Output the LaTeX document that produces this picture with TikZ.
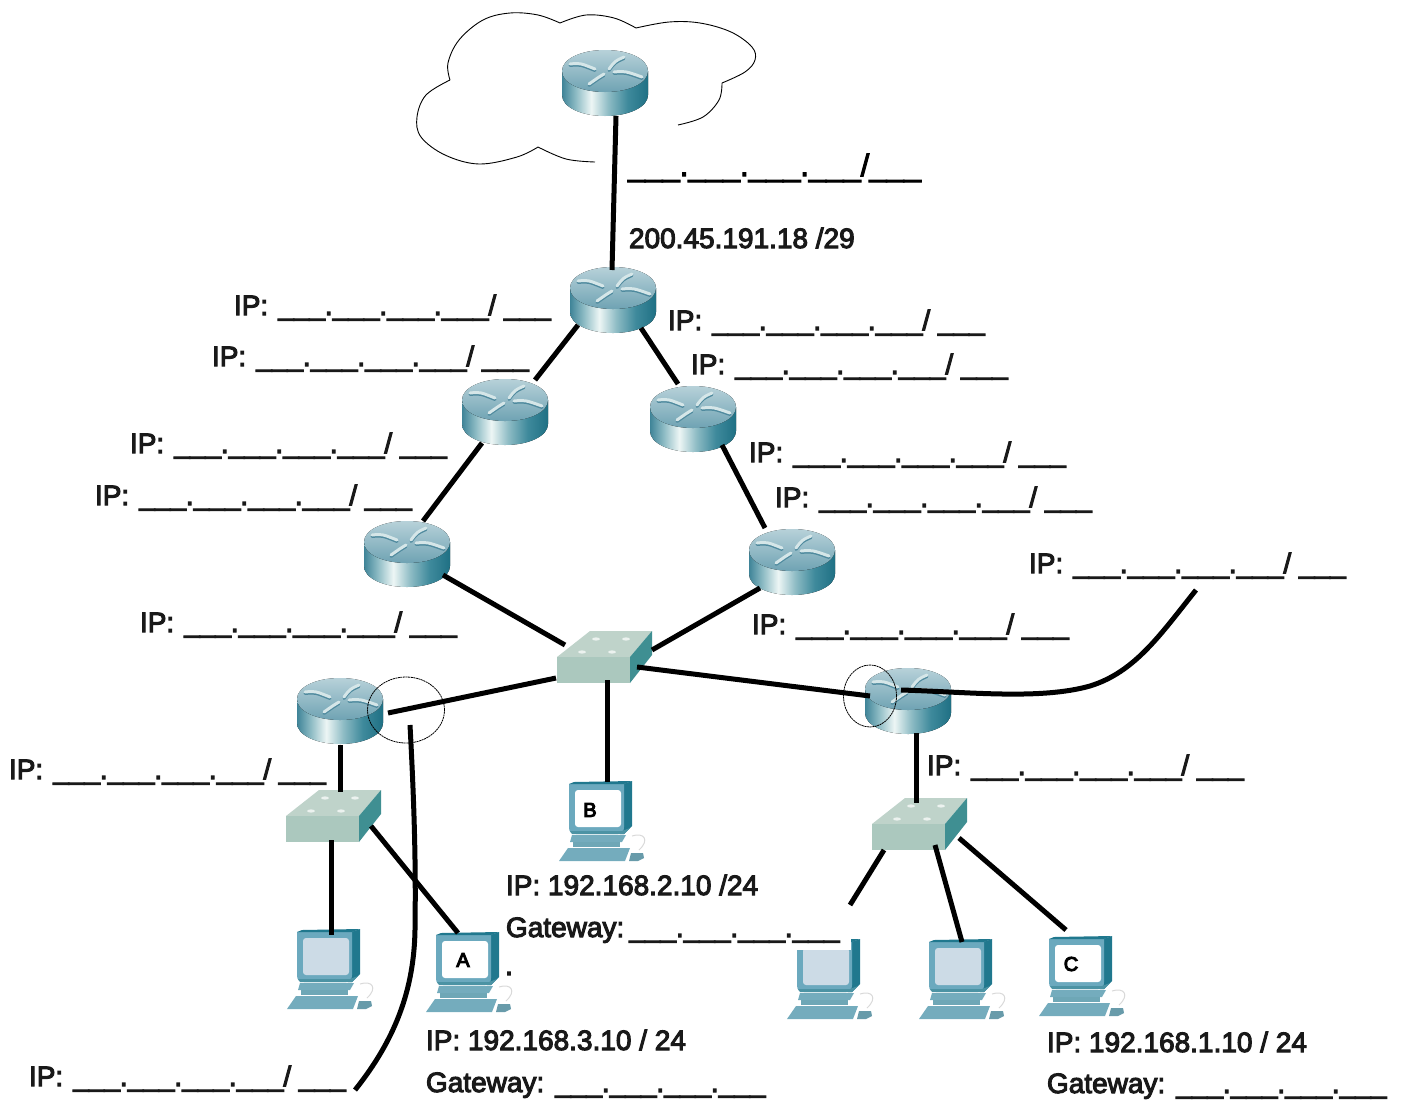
\documentclass[tikz,border=0pt]{standalone}
\usepackage{fontspec}
\setmainfont{Liberation Sans}
\usetikzlibrary{calc,shapes.geometric}
\definecolor{rtop}{HTML}{6FA3B3}
\definecolor{rarrow}{HTML}{D5E6E8}
\definecolor{rshadow}{HTML}{4F8A9E}
\definecolor{swfront}{HTML}{ABC8BE}
\definecolor{swtop}{HTML}{BFD3CA}
\definecolor{swside}{HTML}{3F8F92}
\definecolor{pcframe}{HTML}{6BA9BE}
\definecolor{pcside}{HTML}{20788E}
\definecolor{pcscreen}{HTML}{CCDBE6}
\definecolor{pcbase}{HTML}{74ACBD}
\definecolor{rb1}{HTML}{3F8498}
\definecolor{rb2}{HTML}{8DBBC4}
\definecolor{rb3}{HTML}{EDF6F5}
\definecolor{rb4}{HTML}{3F8A9C}
\definecolor{rb5}{HTML}{1F7084}
\pgfdeclarehorizontalshading{routerbody}{100bp}{
 color(0bp)=(rb1); color(25bp)=(rb1); color(33bp)=(rb2); color(42bp)=(rb3);
 color(52bp)=(rb2); color(63bp)=(rb4); color(75bp)=(rb5); color(100bp)=(rb5)}
\newcommand{\strokeon}{\special{pdf:code 2 Tr 1.05 w}}
\newcommand{\strokeoff}{\special{pdf:code 0 Tr 0.4 w}}
\tikzset{
 x=1pt,y=-1pt,
 link/.style={line width=5pt,black},
 ring/.style={line width=.8pt,black,dash pattern=on 2pt off .6pt},
 dev/.style={inner sep=0pt,outer sep=0pt},
 heavy/.style={execute at begin node=\strokeon,execute at end node=\strokeoff},
 lab/.style={heavy,anchor=base west,inner sep=0pt,outer sep=0pt,font=\fontsize{28}{30}\selectfont,text=black!90},
 blankwide/.style={heavy,anchor=base west,inner sep=0pt,outer sep=0pt,font=\fontsize{31}{33}\selectfont,text=black},
 pclabel/.style={heavy,inner sep=0pt,font=\fontsize{20}{22}\selectfont},
 rstroke/.style={line width=3pt,line cap=round},
 pics/routericon/.style={code={
   \fill[shading=routerbody] (-43,-12) -- (-43,12) .. controls (-43,24) and (-24,33) .. (0,33)
      .. controls (24,33) and (43,24) .. (43,12) -- (43,-12) -- cycle;
   \fill[top color=rtop!50!white,bottom color=rtop] (-43,-12) .. controls (-43,-24) and (-24,-33) .. (0,-33)
      .. controls (24,-33) and (43,-24) .. (43,-12) .. controls (43,0) and (24,9) .. (0,9)
      .. controls (-24,9) and (-43,0) .. (-43,-12) -- cycle;
   \begin{scope}[shift={(0,1.5)}]
   \draw[rstroke,rshadow] (-35,-19) .. controls (-25,-20) .. (-10,-14);
   \draw[rstroke,rshadow] (9,-11) .. controls (20,-12) .. (37,-6);
   \draw[rstroke,rshadow] (19,-26) .. controls (10,-22) .. (4,-14);
   \draw[rstroke,rshadow] (-1,-9) .. controls (-6,-6) .. (-16,1);
   \end{scope}
   \draw[rstroke,rarrow] (-35,-19) .. controls (-25,-20) .. (-10,-14);
   \draw[rstroke,rarrow] (9,-11) .. controls (20,-12) .. (37,-6);
   \draw[rstroke,rarrow] (19,-26) .. controls (10,-22) .. (4,-14);
   \draw[rstroke,rarrow] (-1,-9) .. controls (-6,-6) .. (-16,1);
 }},
 pics/switchicon/.style={code={
   \fill[swtop] (-47,0) -- (-14,-26) -- (48,-26) -- (26,0) -- cycle;
   \fill[swfront] (-47,0) rectangle (26,26);
   \fill[swside] (26,0) -- (48,-26) -- (48,-2) -- (26,26) -- cycle;
   \foreach \p in {(-22,-5),(-8,-18),(8,-5),(22,-18)}
     \fill[white!70!swtop] \p ellipse [x radius=4, y radius=1.6];
 }},
 pics/pcicon/.style={code={
   \begin{scope}[shift={(-42,-40)}]
   \fill[pcside] (60,3) -- (72,-1) -- (72,44) -- (64,52) -- (60,52) -- cycle;
   \fill[pcframe] (9,2) -- (64,2) -- (64,45) .. controls (64,50) and (62,52) .. (58,52) -- (16,52)
     .. controls (11,52) and (9,50) .. (9,45) -- cycle;
   \fill[pcside] (14,0) -- (72,-1) -- (64,2) -- (9,2) -- cycle;
   \fill[#1,rounded corners=3pt] (15,8) rectangle (61,45);
   \fill[pcside!80!white] (10,49) -- (62,49) -- (70,46) -- (64,52) -- (12,52) -- cycle;
   \fill[pcbase] (12,53) -- (66,53) -- (62,60) -- (10,60) -- cycle;
   \fill[pcside!65!white] (13,60) -- (60,60) -- (60,65) -- (13,65) -- cycle;
   \fill[pcbase] (8,66) -- (70,66) -- (65,79) -- (-1,79) -- cycle;
   \fill[pcbase!90!black] (71,71) -- (83,71) -- (84,76) -- (78,79) -- (69,79) -- cycle;
   \draw[line width=1pt,black!15] (72,54) .. controls (84,50) and (90,58) .. (79,68);
   \end{scope}
 }},
}
\newcommand{\blanks}{\_\_\_.\_\_\_.\_\_\_.\_\_\_}
\newcommand{\ipblank}{IP:\hspace{10pt}\blanks/ \_\_\_}
\begin{document}
\begin{tikzpicture}
\useasboundingbox (0,0) rectangle (1403,1101);
% cloud
\draw[line width=.9pt,black]
 plot[smooth,tension=.6] coordinates {(595,162)(566,159)(538,147)}
 plot[smooth,tension=.6] coordinates {(538,147)(517,157)(479,164)(445,155)(421,137)(417,117)(426,95)(450,80)}
 plot[smooth,tension=.6] coordinates {(450,80)(448,63)(459,40)(483,20)(510,13)(538,15)(560,23)}
 plot[smooth,tension=.6] coordinates {(560,23)(586,15)(614,18)(636,28)}
 plot[smooth,tension=.6] coordinates {(636,28)(669,22)(700,23)(731,32)(752,47)(755,60)(745,72)(722,83)}
 plot[smooth,tension=.6] coordinates {(722,83)(719,100)(703,117)(678,125)};
% routers
\foreach \n/\p in {r0/{605,83},r1/{613,300},r2/{505,412},r3/{693,419},r4/{407,554},r5/{792,562},r6/{340,711},r7/{908,701}}{
  \node[dev,minimum width=86pt,minimum height=66pt] (\n) at (\p) {};
  \pic at (\p) {routericon};
}
% switches
\foreach \n/\p in {s0/{604,657},s1/{333,816},s2/{919,824}}{
  \node[dev,minimum width=96pt,minimum height=52pt] (\n) at (\p) {};
  \pic at (\p) {switchicon};
}
% computers
\foreach \n/\p/\c in {pcb/{602,822}/white,pc1/{330,970}/pcscreen,pca/{469,973}/white,pc3/{830,980}/pcscreen,pc4/{962,980}/pcscreen,pcc/{1082,977}/white}{
  \node[dev,minimum width=85pt,minimum height=80pt] (\n) at (\p) {};
  \pic at (\p) {pcicon=\c};
}
\fill[white] (786,905) rectangle (851,950);
\node[pclabel] (la) at (463,960) {A};
\node[pclabel] (lb) at (590,810) {B};
\node[pclabel] (lc) at (1071,964) {C};
% free ends
\coordinate (pc3end) at (850,905);
\coordinate (cl1) at (410,725);
\coordinate (cl2) at (355,1090);
\coordinate (cr1) at (901,690);
\coordinate (cr2) at (1196,590);
% links
\draw[link] ([shift={(11,33)}]r0.center) -- ([shift={(-1,-30)}]r1.center);
\draw[link] ([shift={(-35,25)}]r1.center) -- ([shift={(30,-32)}]r2.center);
\draw[link] ([shift={(28,28)}]r1.center) -- ([shift={(-15,-35)}]r3.center);
\draw[link] ([shift={(-23,31)}]r2.center) -- ([shift={(16,-33)}]r4.center);
\draw[link] ([shift={(29,26)}]r3.center) -- ([shift={(-27,-34)}]r5.center);
\draw[link] ([shift={(36,21)}]r4.center) -- ([shift={(-39,-12)}]s0.center);
\draw[link] ([shift={(-32,26)}]r5.center) -- ([shift={(48,-7)}]s0.center);
\draw[link] ([shift={(48,2)}]r6.center) -- ([shift={(-48,21)}]s0.center);
\draw[link] ([shift={(33,10)}]s0.center) -- ([shift={(-38,-5)}]r7.center);
\draw[link] ([shift={(3,23)}]s0.center) -- ([shift={(5,-40)}]pcb.center);
\draw[link] ([shift={(0,34)}]r6.center) -- ([shift={(7,-24)}]s1.center);
\draw[link] ([shift={(-2,24)}]s1.center) -- ([shift={(1,-35)}]pc1.center);
\draw[link] ([shift={(38,10)}]s1.center) -- ([shift={(-11,-40)}]pca.center);
\draw[link] ([shift={(8,32)}]r7.center) -- ([shift={(-3,-21)}]s2.center);
\draw[link] ([shift={(-35,26)}]s2.center) -- (pc3end);
\draw[link] ([shift={(16,21)}]s2.center) -- ([shift={(0,-38)}]pc4.center);
\draw[link] ([shift={(40,14)}]s2.center) -- ([shift={(-16,-47)}]pcc.center);
\draw[link] (cl1) .. controls (414,800) and (416,860) .. (415,930) .. controls (414,990) and (395,1040) .. (cl2);
\draw[link] (cr1) .. controls (970,692) and (1040,700) .. (1090,686) .. controls (1135,672) and (1160,635) .. (cr2);
% rings
\node[ring,draw,ellipse,minimum width=77pt,minimum height=66pt,inner sep=0pt] (ringl) at (406,710) {};
\node[ring,draw,ellipse,minimum width=53pt,minimum height=62pt,inner sep=0pt] (ringr) at (870,696) {};
% labels
\node[blankwide] (t0) at (628,176) {\blanks/\_\_\_};
\node[lab] (t1) at (629,248) {200.45.191.18 /29};
\node[lab] (a1) at (234,315) {\ipblank};
\node[lab] (a2) at (212,366) {\ipblank};
\node[lab] (a3) at (130,453) {\ipblank};
\node[lab] (a4) at (95,505) {\ipblank};
\node[lab] (a5) at (140,632) {\ipblank};
\node[lab] (a6) at (9,779) {\ipblank};
\node[lab] (a7) at (29,1086) {\ipblank};
\node[lab] (b1) at (668,330) {\ipblank};
\node[lab] (b2) at (691,374) {\ipblank};
\node[lab] (b3) at (749,462) {\ipblank};
\node[lab] (b4) at (775,507) {\ipblank};
\node[lab] (b5) at (1029,573) {\ipblank};
\node[lab] (b6) at (752,634) {\ipblank};
\node[lab] (b7) at (927,775) {\ipblank};
\node[lab] (c1) at (506,895) {IP: 192.168.2.10 /24};
\node[lab] (c2) at (506,937) {Gateway:\hspace{5pt}\blanks};
\node[lab] (d1) at (426,1050) {IP: 192.168.3.10 / 24};
\node[lab] (d2) at (426,1092) {Gateway:\hspace{11pt}\blanks};
\node[lab] (e1) at (1047,1052) {IP: 192.168.1.10 / 24};
\node[lab] (e2) at (1047,1093) {Gateway:\hspace{11pt}\blanks};
\node[lab] (dot) at (505,975) {.};
\end{tikzpicture}
\end{document}
